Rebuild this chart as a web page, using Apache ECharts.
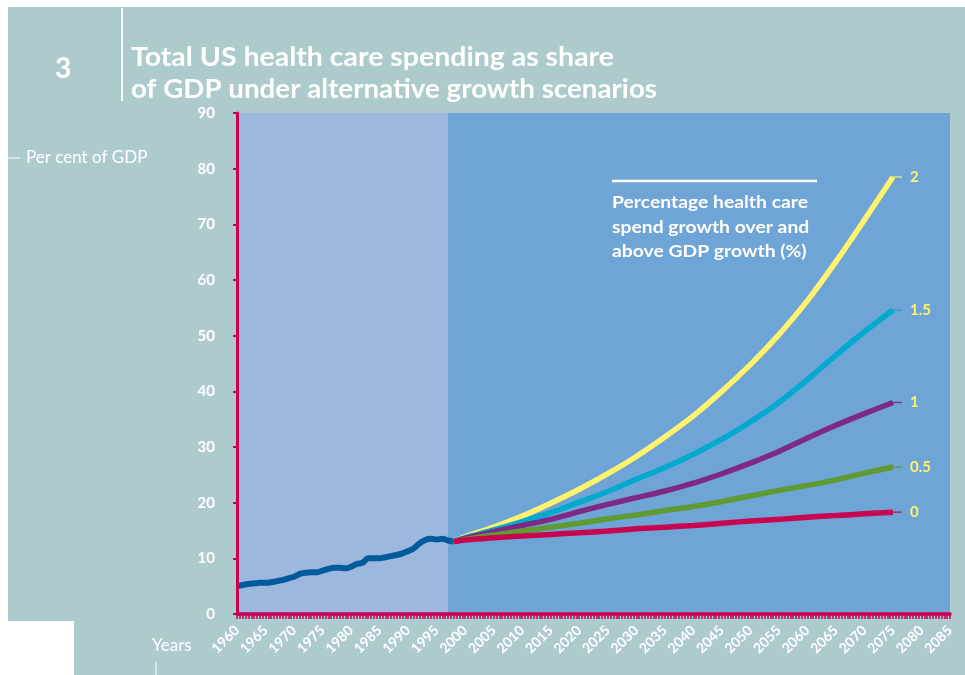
<!DOCTYPE html>
<html>
<head>
<meta charset="utf-8">
<script src="https://cdn.jsdelivr.net/npm/echarts@6/dist/echarts.min.js"></script>
<style>
  html, body { margin: 0; padding: 0; background: #ffffff; }
  #chart { width: 965px; height: 675px; }
</style>
</head>
<body>
<div id="chart"></div>
<script>
// Historical spending, per cent of GDP
const histYears = [1960, 1961, 1962, 1963, 1964, 1965, 1966, 1967, 1968, 1969,
  1970, 1971, 1972, 1973, 1974, 1975, 1976, 1977, 1978, 1979,
  1980, 1981, 1982, 1983, 1984, 1985, 1986, 1987, 1988, 1989,
  1990, 1991, 1992, 1993, 1994, 1995, 1996, 1997, 1998];
const histShare = [5.0, 5.2, 5.4, 5.5, 5.6, 5.6, 5.7, 5.9, 6.1, 6.4,
  6.7, 7.2, 7.4, 7.5, 7.5, 7.8, 8.1, 8.3, 8.3, 8.2,
  8.5, 9.0, 9.2, 10.0, 10.0, 10.0, 10.2, 10.4, 10.6, 10.9,
  11.3, 11.8, 12.7, 13.3, 13.5, 13.4, 13.5, 13.2, 13.0];

// Projections by excess growth scenario
const projYears = [1998, 2000, 2005, 2010, 2015, 2020, 2025, 2030, 2035,
  2040, 2045, 2050, 2055, 2060, 2065, 2070, 2075];
const excess2   = [13.0, 13.9, 15.6, 17.6, 19.9, 22.4, 25.2, 28.3, 31.8, 35.6, 40.0, 44.8, 50.2, 56.3, 63.3, 70.8, 78.5];
const excess15  = [13.0, 13.7, 15.1, 16.6, 18.2, 20.1, 22.0, 24.2, 26.3, 28.7, 31.4, 34.5, 38.0, 42.1, 46.5, 50.7, 54.6];
const excess1   = [13.0, 13.6, 14.8, 15.9, 17.0, 18.4, 19.7, 20.9, 22.1, 23.5, 25.2, 27.1, 29.2, 31.6, 33.9, 36.0, 38.0];
const excess05  = [13.0, 13.4, 14.2, 14.9, 15.6, 16.3, 17.1, 17.8, 18.6, 19.3, 20.2, 21.2, 22.2, 23.1, 24.1, 25.3, 26.4];
const excess0   = [13.0, 13.3, 13.7, 14.0, 14.3, 14.6, 14.9, 15.3, 15.6, 15.9, 16.3, 16.7, 17.0, 17.4, 17.7, 18.0, 18.3];
const scenarioNames = ['2', '1.5', '1', '0.5', '0'];
const historyEnd = 1997;

const titleLines = ['Total US health care spending as share', 'of GDP under alternative growth scenarios'];
const keyLines = ['Percentage health care', 'spend growth over and', 'above GDP growth (%)'];

const PANEL = '#adcbcd';
const CRIMSON = '#c8004f';
const LABEL_YELLOW = '#fff36d';
const scenarioColors = ['#fff36d', '#00a9ce', '#7e2a84', '#5f9a32', '#c8064f'];
const scenarioData = [excess2, excess15, excess1, excess05, excess0];

function pairs(xs, ys) { return xs.map((x, i) => [x, ys[i]]); }

// squeeze text horizontally so it spans a given width
const measureCtx = document.createElement('canvas').getContext('2d');
function fitScale(text, font, width) {
  measureCtx.font = font;
  return width / measureCtx.measureText(text).width;
}

const titleFont = 'bold 27px Lato';
const titleScale1 = fitScale(titleLines[0], titleFont, 483);
const titleScale2 = fitScale(titleLines[1], titleFont, 526);
const keyFont = 'bold 17px Lato';
const keyScale = fitScale(keyLines[0], keyFont, 196);

const chart = echarts.init(document.getElementById('chart'), null, { renderer: 'canvas' });

const scenarioSeries = scenarioData.map((vals, i) => ({
  type: 'line',
  name: scenarioNames[i],
  data: pairs(projYears, vals),
  smooth: 0.3,
  symbol: 'none',
  z: 3 + i,
  lineStyle: { color: scenarioColors[i], width: 5.5, cap: 'butt' },
  endLabel: {
    show: true,
    distance: 0,
    formatter: '{d|}{t|' + scenarioNames[i] + '}',
    rich: {
      d: { width: 9, height: 1.2, backgroundColor: scenarioColors[i] },
      t: { color: LABEL_YELLOW, fontFamily: 'Lato', fontWeight: 'bold', fontSize: 15, padding: [0, 0, 0, 8] }
    }
  },
  emphasis: { disabled: true },
  silent: true
}));

const option = {
  backgroundColor: '#ffffff',
  animation: false,
  graphic: [
    { type: 'rect', z: -10, shape: { x: 8, y: 7, width: 957, height: 614 }, style: { fill: PANEL } },
    { type: 'rect', z: -10, shape: { x: 74, y: 621, width: 891, height: 54 }, style: { fill: PANEL } },
    { type: 'line', shape: { x1: 122, y1: 8, x2: 122, y2: 101 }, style: { stroke: '#ffffff', lineWidth: 2 } },
    { type: 'text', x: 63, y: 69, style: { text: '3', font: 'bold 28px Lato', fill: '#ffffff', align: 'center', verticalAlign: 'middle' } },
    { type: 'text', x: 131, y: 57, scaleX: titleScale1, style: { text: titleLines[0], font: titleFont, fill: '#ffffff', verticalAlign: 'middle' } },
    { type: 'text', x: 131, y: 89, scaleX: titleScale2, style: { text: titleLines[1], font: titleFont, fill: '#ffffff', verticalAlign: 'middle' } },
    { type: 'line', shape: { x1: 8, y1: 158, x2: 20, y2: 158 }, style: { stroke: '#ffffff', lineWidth: 1 } },
    { type: 'text', x: 26, y: 158, style: { text: 'Per cent of GDP', font: '17px Lato', fill: '#ffffff', verticalAlign: 'middle' } },
    { type: 'text', x: 152, y: 646, style: { text: 'Years', font: '17px Lato', fill: '#ffffff', verticalAlign: 'middle' } },
    { type: 'line', shape: { x1: 156, y1: 662, x2: 156, y2: 675 }, style: { stroke: '#ffffff', lineWidth: 1 } },
    { type: 'line', z: 10, shape: { x1: 612, y1: 181, x2: 817, y2: 181 }, style: { stroke: '#ffffff', lineWidth: 2.5 } },
    { type: 'text', z: 10, x: 612, y: 203, scaleX: keyScale, style: { text: keyLines[0], font: keyFont, fill: '#ffffff', verticalAlign: 'middle' } },
    { type: 'text', z: 10, x: 612, y: 228, scaleX: keyScale, style: { text: keyLines[1], font: keyFont, fill: '#ffffff', verticalAlign: 'middle' } },
    { type: 'text', z: 10, x: 612, y: 252, scaleX: keyScale, style: { text: keyLines[2], font: keyFont, fill: '#ffffff', verticalAlign: 'middle' } }
  ],
  grid: {
    left: 237, right: 15, top: 113, bottom: 61,
    show: true, backgroundColor: '#6ea4d6', borderWidth: 0
  },
  xAxis: {
    type: 'value',
    z: 20,
    min: 1960, max: 2085, interval: 5,
    axisLine: { show: true, lineStyle: { color: CRIMSON, width: 3.5 } },
    axisTick: { show: true, length: 5, lineStyle: { color: CRIMSON, width: 1.5 } },
    minorTick: { show: true, splitNumber: 10, length: 5, lineStyle: { color: CRIMSON, width: 1.5 } },
    splitLine: { show: false },
    axisLabel: {
      rotate: 45, margin: 14, color: '#ffffff',
      fontFamily: 'Lato', fontWeight: 'bold', fontSize: 14,
      formatter: v => String(v)
    }
  },
  yAxis: {
    type: 'value',
    z: 20,
    min: 0, max: 90, interval: 10,
    axisLine: { show: true, lineStyle: { color: CRIMSON, width: 3 } },
    axisTick: { show: true, length: 4, lineStyle: { color: CRIMSON, width: 2 } },
    splitLine: { show: false },
    axisLabel: {
      margin: 22, color: '#ffffff',
      fontFamily: 'Lato', fontWeight: 'bold', fontSize: 15
    }
  },
  series: [
    {
      type: 'line',
      name: 'history',
      data: pairs(histYears, histShare),
      smooth: 0.3,
      symbol: 'none',
      z: 2,
      lineStyle: { color: '#005a9c', width: 6 },
      markArea: {
        silent: true,
        itemStyle: { color: '#9db8df' },
        data: [[{ xAxis: histYears[0] }, { xAxis: historyEnd }]]
      },
      emphasis: { disabled: true },
      silent: true
    }
  ].concat(scenarioSeries)
};

chart.setOption(option);
</script>
</body>
</html>
